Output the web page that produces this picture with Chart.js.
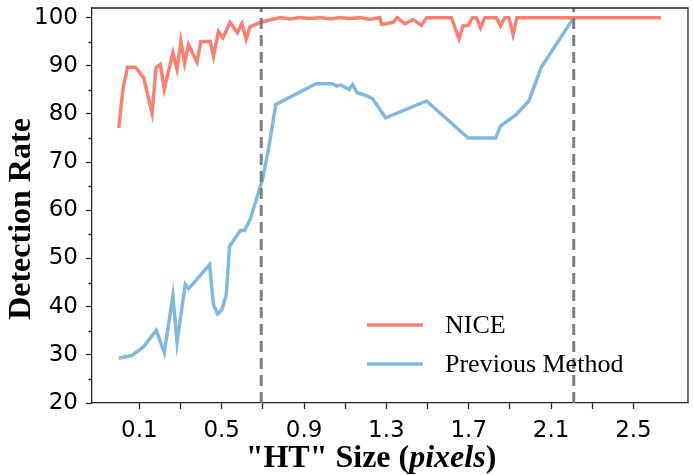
<!DOCTYPE html>
<html>
<head>
<meta charset="utf-8">
<script src="https://cdn.jsdelivr.net/npm/chart.js@4.4.0/dist/chart.umd.min.js"></script>
<style>
  html, body { margin: 0; padding: 0; background: #fff; }
</style>
</head>
<body>
<canvas id="chart" width="693" height="475"></canvas>
<script>
// data
const niceX = [0.0, 0.021, 0.043, 0.081, 0.121, 0.162, 0.181, 0.202, 0.221, 0.263, 0.283, 0.302, 0.320, 0.339, 0.380, 0.399, 0.444, 0.460, 0.484, 0.506, 0.541, 0.577, 0.598, 0.619, 0.638, 0.687, 0.743, 0.784, 0.832, 0.881, 0.929, 0.978, 1.026, 1.075, 1.123, 1.172, 1.220, 1.268, 1.277, 1.301, 1.333, 1.352, 1.390, 1.430, 1.471, 1.495, 1.616, 1.653, 1.672, 1.697, 1.718, 1.737, 1.757, 1.778, 1.834, 1.854, 1.875, 1.895, 1.915, 1.934, 2.634];
const niceY = [77.1, 85.4, 89.7, 89.7, 87.5, 80.2, 89.6, 90.3, 85.2, 92.7, 89.3, 95.1, 90.6, 94.4, 90.8, 95.0, 95.1, 92.0, 97.1, 95.8, 99.0, 96.9, 98.8, 95.5, 98.1, 99.0, 99.6, 100, 99.7, 100, 99.8, 100, 99.7, 100, 99.8, 100, 99.6, 100, 98.6, 98.8, 99.0, 100, 98.7, 99.6, 98.4, 100, 100, 95.6, 98.3, 98.4, 100, 100, 97.9, 100, 100, 98.3, 100, 100, 96.5, 100, 100];

const prevX = [0.0, 0.065, 0.121, 0.182, 0.221, 0.263, 0.283, 0.323, 0.339, 0.441, 0.460, 0.480, 0.501, 0.522, 0.538, 0.590, 0.611, 0.638, 0.698, 0.727, 0.763, 0.958, 1.039, 1.059, 1.078, 1.118, 1.136, 1.158, 1.196, 1.233, 1.296, 1.495, 1.697, 1.831, 1.854, 1.931, 1.992, 2.052, 2.210];
const prevY = [29.3, 29.9, 31.7, 35.1, 30.5, 42.3, 32.6, 44.6, 43.7, 48.7, 40.4, 38.5, 39.4, 42.5, 52.5, 55.8, 55.8, 58.1, 66.4, 72.6, 82.0, 86.3, 86.3, 85.8, 86.0, 85.1, 86.1, 84.4, 83.9, 83.2, 79.2, 82.7, 75.0, 75.0, 77.5, 79.9, 82.7, 89.7, 100];

const seriesNames = ['NICE', 'Previous Method'];
const markerX = [0.692, 2.21];

const xTicks = [0.1, 0.3, 0.5, 0.7, 0.9, 1.1, 1.3, 1.5, 1.7, 1.9, 2.1, 2.3, 2.5];
const xTickLabels = ['0.1', '0.5', '0.9', '1.3', '1.7', '2.1', '2.5'];
const yTicks = [20, 30, 40, 50, 60, 70, 80, 90, 100];
const yMinorTicks = [25, 35, 45, 55, 65, 75, 85, 95];

const niceColor = 'rgb(250,128,114)';
const prevColor = 'rgb(128,184,224)';
const axisColor = '#262626';

function pts(xs, ys) {
  return xs.map((x, i) => ({ x: x, y: ys[i] }));
}

const extras = {
  id: 'extras',
  afterDraw(chart) {
    const ctx = chart.ctx;
    const a = chart.chartArea;
    const ys = chart.scales.y;
    ctx.save();
    // top / right frame
    ctx.strokeStyle = axisColor;
    ctx.lineWidth = 1.3;
    ctx.beginPath();
    ctx.moveTo(a.left, a.top);
    ctx.lineTo(a.right, a.top);
    ctx.lineTo(a.right, a.bottom);
    // minor ticks on y
    yMinorTicks.forEach(v => {
      const p = Math.round(ys.getPixelForValue(v)) + 0.5;
      ctx.moveTo(a.left, p);
      ctx.lineTo(a.left - 3.5, p);
    });
    ctx.stroke();

    // y title
    ctx.fillStyle = '#000';
    ctx.font = 'bold 32px "Liberation Serif"';
    ctx.textAlign = 'center';
    ctx.textBaseline = 'middle';
    ctx.save();
    ctx.translate(22, 219);
    ctx.rotate(-Math.PI / 2);
    ctx.fillText('Detection Rate', 0, 0);
    ctx.restore();

    // x title with italic part
    const parts = [
      ['"HT" Size (', 'bold 32px "Liberation Serif"'],
      ['pixels', 'italic bold 32px "Liberation Serif"'],
      [')', 'bold 32px "Liberation Serif"']
    ];
    let total = 0;
    parts.forEach(p => { ctx.font = p[1]; total += ctx.measureText(p[0]).width; });
    let x = 371 - total / 2;
    ctx.textAlign = 'left';
    parts.forEach(p => {
      ctx.font = p[1];
      ctx.fillText(p[0], x, 459);
      x += ctx.measureText(p[0]).width;
    });

    // legend
    const rows = [[seriesNames[0], niceColor, 325], [seriesNames[1], prevColor, 364]];
    ctx.font = '26px "Liberation Serif"';
    rows.forEach(r => {
      ctx.strokeStyle = r[1];
      ctx.lineWidth = 3.5;
      ctx.beginPath();
      ctx.moveTo(367, r[2]);
      ctx.lineTo(423, r[2]);
      ctx.stroke();
      ctx.fillStyle = '#000';
      ctx.fillText(r[0], 445, r[2] + 1);
    });
    ctx.restore();
  }
};

Chart.defaults.font.family = '"DejaVu Sans"';
Chart.defaults.color = '#000';

const ctx = document.getElementById('chart').getContext('2d');
const chart = new Chart(ctx, {
  type: 'scatter',
  data: {
    datasets: [
      {
        label: 'marker1',
        data: [{ x: markerX[0], y: 20 }, { x: markerX[0], y: 102 }],
        showLine: true, borderColor: 'rgba(120,120,120,0.95)', borderWidth: 3,
        borderDash: [11, 6], pointRadius: 0, order: 0
      },
      {
        label: 'marker2',
        data: [{ x: markerX[1], y: 20 }, { x: markerX[1], y: 102 }],
        showLine: true, borderColor: 'rgba(120,120,120,0.95)', borderWidth: 3,
        borderDash: [11, 6], pointRadius: 0, order: 0
      },
      {
        label: seriesNames[0],
        data: pts(niceX, niceY),
        showLine: true, borderColor: niceColor, borderWidth: 3.5,
        pointRadius: 0, tension: 0, order: 1
      },
      {
        label: seriesNames[1],
        data: pts(prevX, prevY),
        showLine: true, borderColor: prevColor, borderWidth: 3.5,
        pointRadius: 0, tension: 0, order: 2
      }
    ]
  },
  options: {
    responsive: false,
    animation: false,
    layout: { padding: { top: 8, right: 5, left: 0, bottom: 0 } },
    plugins: {
      legend: { display: false },
      tooltip: { enabled: false }
    },
    scales: {
      x: {
        type: 'linear',
        min: -0.13,
        max: 2.765,
        grid: { drawOnChartArea: false, tickLength: 6, tickColor: axisColor, tickWidth: 1.3 },
        border: { color: axisColor, width: 1.3 },
        ticks: {
          autoSkip: false, maxRotation: 0, padding: 8,
          font: { size: 23 },
          callback: function (v) {
            const s = (Math.round(v * 10) / 10).toFixed(1);
            return xTickLabels.indexOf(s) >= 0 ? s : '';
          }
        },
        afterBuildTicks: function (scale) {
          scale.ticks = xTicks.map(v => ({ value: v }));
        },
        afterFit: function (scale) {
          scale.height = 72;
          scale.paddingLeft = 0;
          scale.paddingRight = 0;
        }
      },
      y: {
        min: 20,
        max: 102,
        grid: { drawOnChartArea: false, tickLength: 6, tickColor: axisColor, tickWidth: 1.3 },
        border: { color: axisColor, width: 1.3 },
        ticks: { padding: 8, font: { size: 23 } },
        afterBuildTicks: function (scale) {
          scale.ticks = yTicks.map(v => ({ value: v }));
        },
        afterFit: function (scale) {
          scale.width = 92;
          scale.paddingTop = 0;
          scale.paddingBottom = 0;
        }
      }
    }
  },
  plugins: [extras]
});
</script>
</body>
</html>
